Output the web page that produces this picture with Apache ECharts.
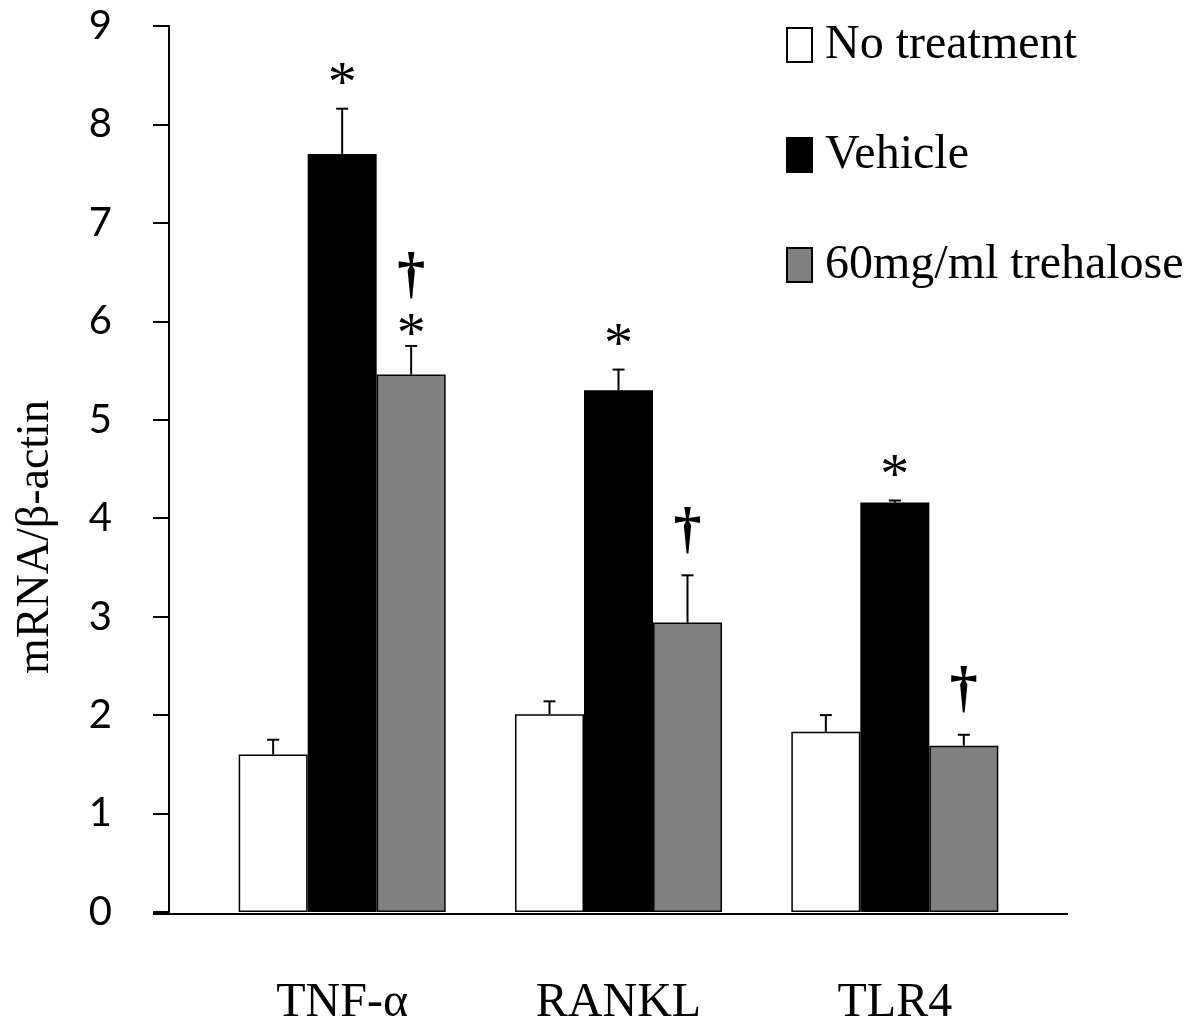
<!DOCTYPE html>
<html>
<head>
<meta charset="utf-8">
<script src="https://cdn.jsdelivr.net/npm/echarts@6/dist/echarts.min.js"></script>
<style>html,body{margin:0;padding:0;background:#fff;}#main{width:1200px;height:1027px;}</style>
</head>
<body>
<div id="main"></div>
<script>
// ---- data ----
const categories = ['TNF-α', 'RANKL', 'TLR4'];
const seriesNames = ['No treatment', 'Vehicle', '60mg/ml trehalose'];
const noTreatment = [1.60, 2.01, 1.83];
const noTreatmentErr = [0.15, 0.13, 0.17];
const vehicle = [7.70, 5.30, 4.16];
const vehicleErr = [0.46, 0.21, 0.02];
const trehalose = [5.46, 2.94, 1.69];
const trehaloseErr = [0.29, 0.48, 0.11];
const noTreatmentMarks = [[], [], []];
const vehicleMarks = [['*'], ['*'], ['*']];
const trehaloseMarks = [['*', '†'], ['†'], ['†']];
const yTicks = [0, 1, 2, 3, 4, 5, 6, 7, 8, 9];

const BAR_W = 69;
const SERIF = 'Liberation Serif';
const colors = ['#ffffff', '#000000', '#808080'];
const values = [noTreatment, vehicle, trehalose];
const errs = [noTreatmentErr, vehicleErr, trehaloseErr];
const marks = [noTreatmentMarks, vehicleMarks, trehaloseMarks];

const chart = echarts.init(document.getElementById('main'), null, {renderer: 'canvas'});

const barSeries = seriesNames.map((name, i) => ({
  name: name,
  type: 'bar',
  data: values[i],
  barWidth: BAR_W,
  barGap: '0%',
  itemStyle: {color: colors[i], borderColor: '#000', borderWidth: 1.5},
  emphasis: {disabled: true},
  z: 2
}));

function errRenderer(seriesIdx) {
  return function (params, api) {
    const cat = api.value(0), v = api.value(1), e = api.value(2);
    const base = api.coord([cat, v]);
    const top = api.coord([cat, v + e]);
    const x = base[0] + (seriesIdx - 1) * BAR_W;
    const children = [
      {type: 'line', shape: {x1: x, y1: base[1], x2: x, y2: top[1]}, style: {stroke: '#000', lineWidth: 2}},
      {type: 'line', shape: {x1: x - 6, y1: top[1], x2: x + 6, y2: top[1]}, style: {stroke: '#000', lineWidth: 2}}
    ];
    const mk = marks[seriesIdx][cat];
    let offsets;
    if (mk.length === 2) offsets = [9, 68];
    else offsets = [mk[0] === '*' ? 23 : 43];
    mk.forEach((m, k) => {
      children.push({
        type: 'text',
        x: x, y: top[1] - offsets[k],
        style: {
          text: m,
          font: (m === '*' ? '58px ' : 'bold 56px ') + SERIF,
          fill: '#000',
          align: 'center',
          verticalAlign: 'middle'
        }
      });
    });
    return {type: 'group', children: children};
  };
}

const errSeries = seriesNames.map((name, i) => ({
  name: name + ' err',
  type: 'custom',
  renderItem: errRenderer(i),
  data: categories.map((c, j) => [j, values[i][j], errs[i][j]]),
  encode: {x: 0, y: 1},
  z: 3,
  silent: true
}));

const option = {
  backgroundColor: '#ffffff',
  animation: false,
  grid: {left: 204, top: 26, width: 829, height: 888, containLabel: false},
  legend: {
    data: seriesNames,
    orient: 'vertical',
    left: 781,
    top: 16,
    itemWidth: 25,
    itemHeight: 34,
    itemGap: 62,
    icon: 'rect',
    selectedMode: false,
    textStyle: {fontFamily: SERIF, fontSize: 48, color: '#000', padding: [0, 0, 0, 8]}
  },
  xAxis: {
    type: 'category',
    data: categories,
    axisLine: {show: false},
    axisTick: {show: false},
    axisLabel: {fontFamily: SERIF, fontSize: 48, color: '#000', margin: 67}
  },
  yAxis: {
    type: 'value',
    min: yTicks[0],
    max: yTicks[yTicks.length - 1],
    interval: 1,
    offset: 35,
    splitLine: {show: false},
    axisLine: {show: true, lineStyle: {color: '#000', width: 2}},
    axisTick: {show: true, length: 16, lineStyle: {color: '#000', width: 2}},
    axisLabel: {fontFamily: 'Lato', fontSize: 40, color: '#000', margin: 57}
  },
  graphic: [
    {type: 'line', shape: {x1: 153, y1: 914, x2: 1068, y2: 914}, style: {stroke: '#000', lineWidth: 2}, z: 10},
    {type: 'text', x: 36, y: 537, rotation: Math.PI / 2,
      style: {text: 'mRNA/β-actin', font: '46px ' + SERIF, fill: '#000', align: 'center', verticalAlign: 'middle'}}
  ],
  series: barSeries.concat(errSeries)
};
chart.setOption(option);
</script>
</body>
</html>
